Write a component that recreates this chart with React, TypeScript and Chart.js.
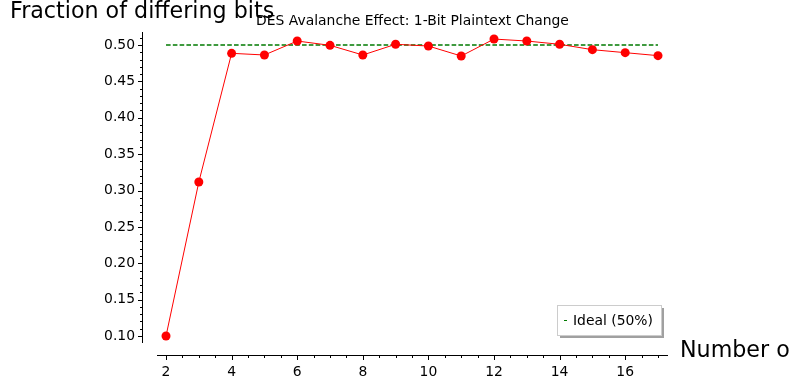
import React, { useEffect, useRef } from "react";
import { Chart, registerables } from "chart.js";

Chart.register(...registerables);

const rounds = [2, 3, 4, 5, 6, 7, 8, 9, 10, 11, 12, 13, 14, 15, 16, 17];
const fraction = [0.1, 0.3117, 0.4886, 0.4863, 0.5055, 0.4996, 0.4863, 0.501, 0.4986, 0.4849, 0.5082, 0.5055, 0.501, 0.4936, 0.4895, 0.4854];
const idealRounds = [2, 17];
const idealValues = [0.5, 0.5];
const xTickValues = [2, 4, 6, 8, 10, 12, 14, 16];
const yTickValues = [0.1, 0.15, 0.2, 0.25, 0.3, 0.35, 0.4, 0.45, 0.5];
const xMinorStep = 0.5;
const yMinorStep = 0.01;

const titleText = "DES Avalanche Effect: 1-Bit Plaintext Change";
const yLabelText = "Fraction of differing bits";
const xLabelText = "Number of rounds";
const idealLabel = "Ideal (50%)";

const FONT = "DejaVu Sans";
const IDEAL_COLOR = "#007a00";

export default function App() {
  const ref = useRef<HTMLCanvasElement | null>(null);
  useEffect(() => {
    if (!ref.current) return;
    const decor = {
      id: "sageDecor",
      afterDraw(chart: any) {
        const ctx = chart.ctx as CanvasRenderingContext2D;
        const xs = chart.scales.x;
        const ys = chart.scales.y;
        const ca = chart.chartArea;
        const axisX = Math.round(ca.left - 15) + 0.5;
        const axisY = Math.round(ca.bottom + 12) + 0.5;
        ctx.save();
        ctx.strokeStyle = "#000";
        ctx.lineWidth = 1;
        ctx.beginPath();
        ctx.moveTo(axisX, ca.top);
        ctx.lineTo(axisX, ca.bottom);
        ctx.stroke();
        ctx.beginPath();
        ctx.moveTo(ca.left, axisY);
        ctx.lineTo(ca.right, axisY);
        ctx.stroke();
        const yMin = ys.min, yMax = ys.max;
        for (let k = Math.ceil(yMin / yMinorStep); k * yMinorStep <= yMax + 1e-9; k++) {
          const v = k * yMinorStep;
          const isMajor = yTickValues.some((t) => Math.abs(t - v) < 1e-6);
          const py = Math.round(ys.getPixelForValue(v)) + 0.5;
          const len = isMajor ? 4.5 : 2.5;
          ctx.beginPath();
          ctx.moveTo(axisX, py);
          ctx.lineTo(axisX - len, py);
          ctx.stroke();
        }
        const xMin = xs.min, xMax = xs.max;
        for (let k = Math.ceil(xMin / xMinorStep); k * xMinorStep <= xMax + 1e-9; k++) {
          const v = k * xMinorStep;
          const isMajor = xTickValues.some((t) => Math.abs(t - v) < 1e-6);
          const px = Math.round(xs.getPixelForValue(v)) + 0.5;
          const len = isMajor ? 4.5 : 2.5;
          ctx.beginPath();
          ctx.moveTo(px, axisY);
          ctx.lineTo(px, axisY + len);
          ctx.stroke();
        }
        ctx.fillStyle = "#000";
        ctx.font = `13.9px '${FONT}'`;
        ctx.textAlign = "center";
        ctx.textBaseline = "alphabetic";
        ctx.fillText(titleText, (ca.left + ca.right) / 2, 25);
        ctx.font = `22.2px '${FONT}'`;
        ctx.textAlign = "left";
        ctx.fillText(yLabelText, 10, 18);
        ctx.fillText(xLabelText, 680, 357);
        const bx = 557, by = 305, bw = 104, bh = 30;
        ctx.fillStyle = "#a0a0a0";
        ctx.fillRect(bx + 3, by + 3, bw, bh);
        ctx.fillStyle = "#fff";
        ctx.fillRect(bx, by, bw, bh);
        ctx.strokeStyle = "#cccccc";
        ctx.strokeRect(bx + 0.5, by + 0.5, bw, bh);
        ctx.fillStyle = IDEAL_COLOR;
        ctx.fillRect(564, 320, 3, 1);
        ctx.fillStyle = "#000";
        ctx.font = `13.9px '${FONT}'`;
        ctx.textBaseline = "middle";
        ctx.fillText(idealLabel, 573, 321);
        ctx.restore();
      },
    };
    const chart = new Chart(ref.current, {
      type: "line",
      data: {
        datasets: [
          {
            label: "Fraction",
            data: rounds.map((r, i) => ({ x: r, y: fraction[i] })),
            borderColor: "#ff0000",
            backgroundColor: "#ff0000",
            borderWidth: 1,
            pointRadius: 4.5,
            pointBorderWidth: 0,
            pointBackgroundColor: "#ff0000",
            tension: 0,
            order: 0,
          },
          {
            label: idealLabel,
            data: idealRounds.map((r, i) => ({ x: r, y: idealValues[i] })),
            borderColor: IDEAL_COLOR,
            backgroundColor: IDEAL_COLOR,
            borderWidth: 1.4,
            borderDash: [4.6, 2.2],
            pointRadius: 0,
            tension: 0,
            order: 1,
          },
        ],
      },
      options: {
        responsive: false,
        animation: false,
        events: [],
        layout: { padding: { top: 32, right: 122, left: 0, bottom: 0 } },
        plugins: { legend: { display: false }, title: { display: false }, tooltip: { enabled: false } },
        scales: {
          x: {
            type: "linear",
            min: 1.725,
            max: 17.305,
            grid: { display: false, drawTicks: false, tickLength: 0 },
            border: { display: false },
            afterBuildTicks: (s: any) => {
              s.ticks = xTickValues.map((v) => ({ value: v }));
            },
            afterFit: (s: any) => {
              s.height = 47;
            },
            ticks: {
              padding: 21,
              maxRotation: 0,
              autoSkip: false,
              color: "#000",
              font: { family: FONT, size: 13.9 },
              callback: (v: any) => String(v),
            },
          },
          y: {
            type: "linear",
            min: 0.0904,
            max: 0.5179,
            grid: { display: false, drawTicks: false, tickLength: 0 },
            border: { display: false },
            afterBuildTicks: (s: any) => {
              s.ticks = yTickValues.map((v) => ({ value: v }));
            },
            afterFit: (s: any) => {
              s.width = 157;
            },
            ticks: {
              padding: 22,
              autoSkip: false,
              color: "#000",
              font: { family: FONT, size: 13.9 },
              callback: (v: any) => Number(v).toFixed(2),
            },
          },
        },
      },
      plugins: [decor],
    } as any);
    return () => chart.destroy();
  }, []);
  return (
    <div style={{ position: "absolute", left: 0, top: 0, width: 790, height: 390, background: "#fff" }}>
      <canvas ref={ref} width={790} height={390} />
    </div>
  );
}
